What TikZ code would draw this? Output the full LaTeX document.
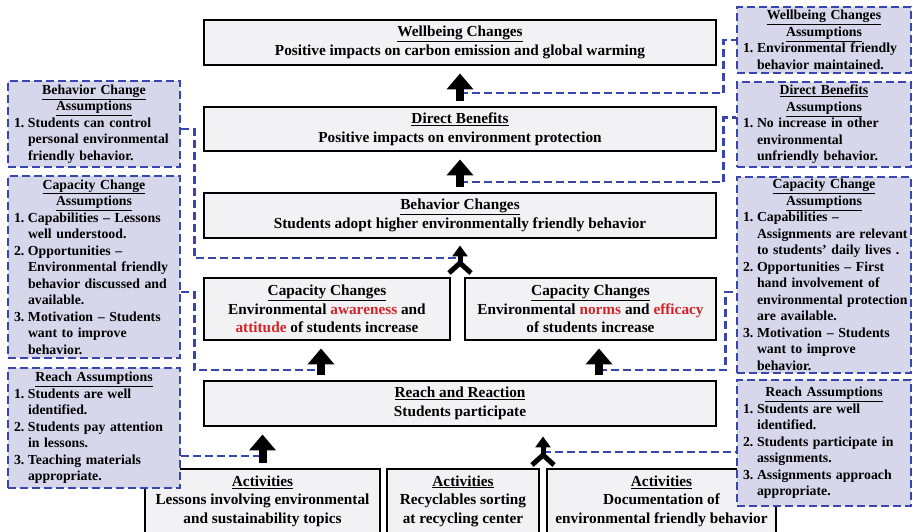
\documentclass[tikz,border=0pt]{standalone}
\usepackage{fontspec}
\setmainfont{Liberation Serif}
\usetikzlibrary{arrows.meta,calc}
\definecolor{boxgray}{RGB}{242,242,244}
\definecolor{asmfill}{RGB}{215,215,236}
\definecolor{asmblue}{RGB}{58,70,176}
\definecolor{wordred}{RGB}{212,36,42}
\newcommand{\asmhead}[1]{{\centering #1\par}}
\newcommand{\asmitem}[2]{\noindent\makebox[14pt][l]{#1}\mbox{#2}}
\newcommand{\asmline}[1]{\noindent\hspace*{14pt}\mbox{#1}}
\newcommand{\redword}[1]{\textcolor{wordred}{#1}}

\begin{document}
\begin{tikzpicture}[x=1pt,y=-1pt,
		mainbox/.style={draw,line width=2.9pt,fill=boxgray,align=center,inner sep=2pt,font=\fontsize{15.3}{18.5}\selectfont\bfseries},
		asmbox/.style={draw=asmblue,dash pattern=on 8pt off 4pt,line width=2.8pt,fill=asmfill,align=left,inner xsep=6pt,inner ysep=2pt,font=\fontsize{13.8}{16.5}\selectfont\bfseries},
		asmlink/.style={draw=asmblue,dash pattern=on 8pt off 4pt,line width=2.8pt},
		blockarrow/.style={line width=8pt,-{Triangle[width=26pt,length=16pt]},shorten >=7pt,shorten <=5pt},
		forkarrow/.style={line width=5pt,-{Triangle[width=15pt,length=11pt]}},
		forkline/.style={line width=5pt,line join=miter}]
		\useasboundingbox (0,0) rectangle (913,531);
		\node[mainbox,minimum width=512pt,minimum height=45pt] (wb) at (460,42.5) {\underline{Wellbeing Changes}\\Positive impacts on carbon emission and global warming};
		\node[mainbox,minimum width=512pt,minimum height=44pt] (db) at (460,129) {\underline{Direct Benefits}\\Positive impacts on environment protection};
		\node[mainbox,minimum width=512pt,minimum height=45pt] (bc) at (460,215.5) {\underline{Behavior Changes}\\Students adopt higher environmentally friendly behavior};
		\node[mainbox,minimum width=246pt,minimum height=62pt] (cl) at (327,309) {\underline{Capacity Changes}\\Environmental \redword{awareness} and\\\redword{attitude} of students increase};
		\node[mainbox,minimum width=251pt,minimum height=62pt] (cr) at (590.5,309) {\underline{Capacity Changes}\\Environmental \redword{norms} and \redword{efficacy}\\of students increase};
		\node[mainbox,minimum width=512pt,minimum height=45pt] (rr) at (460,403.5) {\underline{Reach and Reaction}\\Students participate};
		\node[mainbox,minimum width=235pt,minimum height=64pt] (al) at (262.5,501) {\underline{Activities}\\Lessons involving environmental\\and sustainability topics};
		\node[mainbox,minimum width=152pt,minimum height=64pt] (am) at (463,501) {\underline{Activities}\\Recyclables sorting\\at recycling center};
		\node[mainbox,minimum width=229pt,minimum height=64pt] (ar) at (661.5,501) {\underline{Activities}\\Documentation of\\environmental friendly behavior};
		\node[asmbox,text width=160pt,minimum height=86pt] (bca) at (94,124) {\asmhead{\underline{Behavior Change}\\\underline{Assumptions}}\asmitem{1.}{Students can control}\\\asmline{personal environmental}\\\asmline{friendly behavior.}};
		\node[asmbox,text width=160pt,minimum height=182pt] (cla) at (94,267) {\asmhead{\underline{Capacity Change}\\\underline{Assumptions}}\asmitem{1.}{Capabilities – Lessons}\\\asmline{well understood.}\\\asmitem{2.}{Opportunities –}\\\asmline{Environmental friendly}\\\asmline{behavior discussed and}\\\asmline{available.}\\\asmitem{3.}{Motivation – Students}\\\asmline{want to improve}\\\asmline{behavior.}};
		\node[asmbox,text width=160pt,minimum height=120pt] (rla) at (94,428) {\asmhead{\underline{Reach Assumptions}}\asmitem{1.}{Students are well}\\\asmline{identified.}\\\asmitem{2.}{Students pay attention}\\\asmline{in lessons.}\\\asmitem{3.}{Teaching materials}\\\asmline{appropriate.}};
		\node[asmbox,text width=162pt,minimum height=66pt] (wba) at (824,40) {\asmhead{\underline{Wellbeing Changes}\\\underline{Assumptions}}\asmitem{1.}{Environmental friendly}\\\asmline{behavior maintained.}};
		\node[asmbox,text width=162pt,minimum height=85pt] (dba) at (824,124.5) {\asmhead{\underline{Direct Benefits}\\\underline{Assumptions}}\asmitem{1.}{No increase in other}\\\asmline{environmental}\\\asmline{unfriendly behavior.}};
		\node[asmbox,text width=162pt,minimum height=196pt] (cra) at (824,275) {\asmhead{\underline{Capacity Change}\\\underline{Assumptions}}\asmitem{1.}{Capabilities –}\\\asmline{Assignments are relevant}\\\asmline{to students’ daily lives .}\\\asmitem{2.}{Opportunities – First}\\\asmline{hand involvement of}\\\asmline{environmental protection}\\\asmline{are available.}\\\asmitem{3.}{Motivation – Students}\\\asmline{want to improve}\\\asmline{behavior.}};
		\node[asmbox,text width=162pt,minimum height=126pt] (rra) at (824,443) {\asmhead{\underline{Reach Assumptions}}\asmitem{1.}{Students are well}\\\asmline{identified.}\\\asmitem{2.}{Students participate in}\\\asmline{assignments.}\\\asmitem{3.}{Assignments approach}\\\asmline{appropriate.}};
		\coordinate (j1) at (460,93);
		\coordinate (j2) at (460,182);
		\coordinate (j3) at (599,370);
		\coordinate (j4) at (543,452);
		\coordinate (j5) at (460,258);
		\coordinate (j6) at (321,370);
		\coordinate (j7) at (263,456);
		\coordinate (f1) at (460,263);
		\coordinate (f2) at (543,455);
		\draw[asmlink] (j1) -| ([xshift=-12pt]wba.west) -- (wba.west);
		\draw[asmlink] (j2) -| ([xshift=-12pt,yshift=7pt]dba.west) -- ([yshift=7pt]dba.west);
		\draw[asmlink] (j3) -| ([xshift=-10pt,yshift=-17pt]cra.west) -- ([yshift=-17pt]cra.west);
		\draw[asmlink] (j4) -- (j4 -| rra.west);
		\draw[asmlink] ([yshift=-5pt]bca.east) -- ++(13,0) |- (j5);
		\draw[asmlink] ([yshift=-25pt]cla.east) -- ++(13,0) |- (j6);
		\draw[asmlink] (j7 -| rla.east) -- (j7);
		\foreach \a/\b in {db/wb,bc/db}{
			\draw[blockarrow] (\a.north) -- (\b.south);
		}
		\foreach \c/\j in {cl/j6,cr/j3}{
			\draw[blockarrow] (rr.north -| \j) -- (\c.south -| \j);
		}
		\draw[blockarrow] (al.north) -- (al.north |- rr.south);
		\draw[forkarrow,shorten >=6pt] (f1) -- (f1 |- bc.south);
		\draw[forkline] ([xshift=-11pt,yshift=-10pt]f1) -- (f1) -- ([xshift=11pt,yshift=-10pt]f1);
		\draw[forkarrow,shorten >=9pt] (f2) -- (f2 |- rr.south);
		\draw[forkline] ([xshift=-11pt,yshift=-10pt]f2) -- (f2) -- ([xshift=11pt,yshift=-10pt]f2);
\end{tikzpicture}
\end{document}
